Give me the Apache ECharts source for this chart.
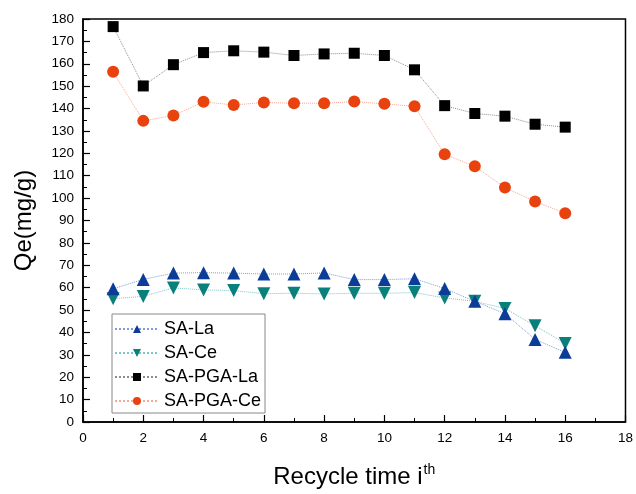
<!DOCTYPE html>
<html>
<head>
<meta charset="utf-8">
<script src="https://cdn.jsdelivr.net/npm/echarts@6/dist/echarts.min.js"></script>
<style>html,body{margin:0;padding:0;background:#fff;}#c{width:636px;height:494px;}</style>
</head>
<body>
<div id="c"></div>
<script>
const cycles = [1,2,3,4,5,6,7,8,9,10,11,12,13,14,15,16];
const saLa = [59.5,63.7,66.5,66.7,66.5,66.1,66.1,66.6,63.6,63.6,64.0,59.6,53.9,48.4,36.9,31.1];
const saCe = [55.1,56.1,59.9,59.0,58.7,57.3,57.5,57.2,57.5,57.5,57.8,55.4,53.9,50.7,43.0,35.1];
const saPgaLa = [176.6,150.1,159.6,165.0,165.8,165.2,163.7,164.4,164.7,163.7,157.3,141.3,137.8,136.6,133.0,131.7];
const saPgaCe = [156.4,134.5,136.9,143.0,141.6,142.7,142.4,142.4,143.1,142.1,141.0,119.6,114.2,104.7,98.5,93.2];
const seriesNames = ['SA-La','SA-Ce','SA-PGA-La','SA-PGA-Ce'];

function pairs(vals){ return cycles.map((c,i)=>[c, vals[i]]); }

const font = 'Arial, "Liberation Sans", sans-serif';
const chart = echarts.init(document.getElementById('c'), null, {renderer:'canvas'});
const axisCommon = {
  axisLine:{show:true, onZero:false, lineStyle:{color:'#000', width:1.5}},
  axisTick:{show:true, inside:true, length:7, lineStyle:{color:'#000', width:1.2}},
  minorTick:{show:true, splitNumber:2, length:4, lineStyle:{color:'#000', width:1}},
  splitLine:{show:false},
  axisLabel:{color:'#000', fontSize:13.5, fontFamily:font, margin:9}
};
chart.setOption({
  animation:false,
  backgroundColor:'#fff',
  grid:{left:83, right:8, top:19, bottom:69, show:true, borderColor:'#000', borderWidth:1.5, containLabel:false},
  xAxis:Object.assign({}, axisCommon, {
    type:'value', min:0, max:18, interval:2,
    name:'{a|Recycle time i}{s|th}', nameLocation:'middle', nameGap:41,
    nameTextStyle:{rich:{a:{fontSize:24, fontFamily:font, color:'#000', verticalAlign:'bottom'}, s:{fontSize:14, fontFamily:font, color:'#000', verticalAlign:'top', padding:[0,0,12,1]}}}
  }),
  yAxis:Object.assign({}, axisCommon, {
    type:'value', min:0, max:180, interval:10,
    name:'Qe(mg/g)', nameLocation:'middle', nameGap:47,
    nameTextStyle:{fontSize:24, fontFamily:font, color:'#000'}
  }),
  legend:{
    orient:'vertical', left:112, top:314,
    data:seriesNames,
    itemWidth:44, itemHeight:10, itemGap:6,
    padding:[6,4,3,2],
    borderColor:'#888', borderWidth:1, backgroundColor:'#fff',
    textStyle:{fontSize:18, lineHeight:16, fontFamily:font, color:'#000', padding:[0,0,0,0]}
  },
  series:[
    {name:'SA-La', type:'line', data:pairs(saLa), symbol:'triangle', symbolSize:13,
     itemStyle:{color:'#0B3D98'}, lineStyle:{type:'dotted', width:1, color:'rgba(40,90,190,0.6)'}, z:3},
    {name:'SA-Ce', type:'line', data:pairs(saCe), symbol:'triangle', symbolRotate:180, symbolSize:13,
     itemStyle:{color:'#0A807C'}, lineStyle:{type:'dotted', width:1, color:'rgba(20,150,150,0.55)'}, z:2},
    {name:'SA-PGA-La', type:'line', data:pairs(saPgaLa), symbol:'rect', symbolSize:11,
     itemStyle:{color:'#000'}, lineStyle:{type:'dotted', width:1, color:'rgba(0,0,0,0.45)'}},
    {name:'SA-PGA-Ce', type:'line', data:pairs(saPgaCe), symbol:'circle', symbolSize:12,
     itemStyle:{color:'#E8430E'}, lineStyle:{type:'dotted', width:1, color:'rgba(240,110,80,0.6)'}}
  ]
});
</script>
</body>
</html>
